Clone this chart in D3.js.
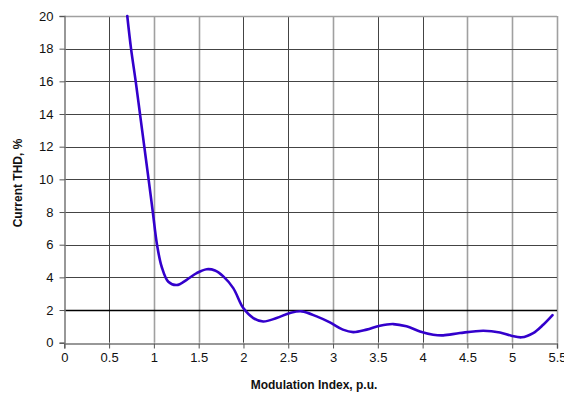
<!DOCTYPE html>
<html>
<head>
<meta charset="utf-8">
<script src="https://cdn.jsdelivr.net/npm/d3@7"></script>
<style>
  html, body { margin: 0; padding: 0; background: #fff; }
  svg { display: block; font-family: "Liberation Sans", Arial, sans-serif; }
</style>
</head>
<body>
<svg id="chart" width="564" height="396"></svg>
<script>
// Current THD versus modulation index
const modIndex = [0.703, 0.745, 0.797, 0.845, 0.893, 0.941, 0.988, 1.035, 1.087, 1.161, 1.255,
  1.366, 1.478, 1.59, 1.682, 1.775, 1.886, 1.998, 2.11, 2.22, 2.37, 2.52, 2.65, 2.817, 2.965, 3.11,
  3.225, 3.375, 3.523, 3.672, 3.82, 3.97, 4.118, 4.23, 4.416, 4.676, 4.863, 4.99, 5.105, 5.234, 5.346, 5.45];
const thd = [20, 18, 16, 14, 12, 10, 8, 6, 4.65, 3.73, 3.53,
  3.85, 4.26, 4.5, 4.42, 4.06, 3.34, 2.12, 1.51, 1.3, 1.51, 1.82, 1.92, 1.61, 1.24, 0.8,
  0.65, 0.8, 1.04, 1.14, 1.0, 0.69, 0.49, 0.45, 0.59, 0.73, 0.63, 0.43, 0.33, 0.59, 1.1, 1.69];
const xTicks = [0, 0.5, 1, 1.5, 2, 2.5, 3, 3.5, 4, 4.5, 5, 5.5];
const yTicks = [0, 2, 4, 6, 8, 10, 12, 14, 16, 18, 20];
const limitLevel = 2;
// gridlines drawn in the softer grey
const softGrid = [1, 1.5, 3, 4.5, 5, 5.5];

const svg = d3.select("#chart");
const x = d3.scaleLinear().domain([0, 5.5]).range([64.3, 557]);
const y = d3.scaleLinear().domain([0, 20]).range([342.7, 16]);

// vertical grid
svg.append("g").selectAll("line").data(xTicks.slice(1)).join("line")
  .attr("x1", d => Math.round(x(d)) + 0.5).attr("x2", d => Math.round(x(d)) + 0.5)
  .attr("y1", y(20)).attr("y2", y(0))
  .attr("stroke", d => softGrid.includes(d) ? "#a0a0a0" : "#444")
  .attr("stroke-width", d => softGrid.includes(d) ? 1.6 : 1);

// horizontal grid
svg.append("g").selectAll("line").data(yTicks.slice(1)).join("line")
  .attr("x1", x(0)).attr("x2", x(5.5))
  .attr("y1", d => Math.round(y(d)) + 0.5).attr("y2", d => Math.round(y(d)) + 0.5)
  .attr("stroke", d => d === limitLevel ? "#000" : (d === 20 ? "#a0a0a0" : "#444"))
  .attr("stroke-width", d => d === limitLevel ? 1.5 : (d === 20 ? 1.6 : 1));

// axes
const xAxis = d3.axisBottom(x).tickValues(xTicks).tickSize(5).tickPadding(4).tickFormat(d3.format("~g"));
const yAxis = d3.axisLeft(y).tickValues(yTicks).tickSize(5).tickPadding(6).tickFormat(d3.format("~g"));

const gx = svg.append("g").attr("transform", `translate(0,${Math.round(y(0)) + 0.5})`).call(xAxis);
const gy = svg.append("g").attr("transform", `translate(${Math.round(x(0)) + 0.5},0)`).call(yAxis);
[gx, gy].forEach(g => {
  g.select(".domain").attr("stroke", "#777").attr("stroke-width", 1.5);
  g.selectAll(".tick line").attr("stroke", "#555");
  g.selectAll(".tick text").attr("font-size", 13).attr("fill", "#111")
    .attr("font-family", "'Liberation Sans', Arial, sans-serif");
});

// THD curve
const line = d3.line().x((d, i) => x(modIndex[i])).y(d => y(d)).curve(d3.curveCatmullRom.alpha(0.5));
svg.append("path").datum(thd)
  .attr("d", line)
  .attr("fill", "none")
  .attr("stroke", "#3300cc")
  .attr("stroke-width", 2.6)
  .attr("stroke-linejoin", "round")
  .attr("stroke-linecap", "round");

// axis titles
svg.append("text")
  .attr("x", 314).attr("y", 389)
  .attr("text-anchor", "middle")
  .attr("font-size", 12).attr("font-weight", "bold").attr("fill", "#111")
  .text("Modulation Index, p.u.");

svg.append("text")
  .attr("transform", "translate(22,183) rotate(-90)")
  .attr("text-anchor", "middle")
  .attr("font-size", 12).attr("font-weight", "bold").attr("fill", "#111")
  .text("Current THD, %");
</script>
</body>
</html>
